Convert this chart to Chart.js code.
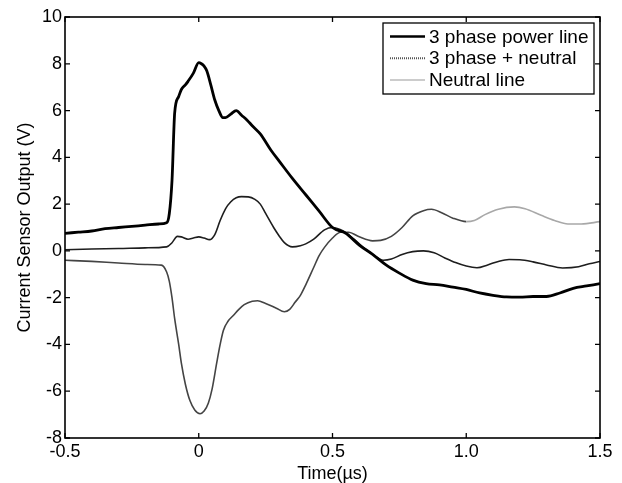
<!DOCTYPE html>
<html>
<head>
<meta charset="utf-8">
<script src="https://cdn.jsdelivr.net/npm/chart.js@4.4.0/dist/chart.umd.min.js"></script>
<style>
html,body{margin:0;padding:0;background:#fff;}
canvas{display:block;}
</style>
</head>
<body>
<canvas id="c" width="622" height="483"></canvas>
<script>
// ---- data ----
const seriesLabels = ["3 phase power line", "3 phase + neutral", "Neutral line"];

const tPower = [-0.5,-0.45,-0.4,-0.35,-0.3,-0.25,-0.2,-0.15,-0.12,-0.11,-0.1,-0.09,-0.075,-0.065,-0.05,-0.04,-0.02,0,0.01,0.02,0.03,0.045,0.06,0.075,0.09,0.1,0.12,0.14,0.16,0.18,0.2,0.23,0.27,0.3,0.35,0.4,0.45,0.5,0.55,0.6,0.65,0.7,0.75,0.8,0.85,0.9,0.95,1.0,1.05,1.1,1.15,1.2,1.25,1.3,1.35,1.4,1.45,1.5];
const vPower = [0.75,0.8,0.85,0.95,1.0,1.05,1.1,1.15,1.2,1.6,3.0,5.9,6.6,6.9,7.1,7.25,7.6,8.05,8.0,7.9,7.7,7.1,6.45,6.0,5.7,5.7,5.85,6.0,5.8,5.6,5.35,5.0,4.3,3.85,3.1,2.4,1.7,1.0,0.75,0.25,-0.15,-0.6,-0.95,-1.25,-1.4,-1.45,-1.55,-1.65,-1.8,-1.9,-1.97,-1.98,-1.95,-1.95,-1.8,-1.6,-1.5,-1.4];

const tSum = [-0.5,-0.4,-0.3,-0.2,-0.12,-0.1,-0.08,-0.065,-0.04,-0.02,0,0.02,0.04,0.06,0.08,0.1,0.12,0.14,0.16,0.185,0.21,0.23,0.25,0.28,0.3,0.32,0.35,0.38,0.4,0.43,0.47,0.5,0.54,0.58,0.62,0.65,0.69,0.72,0.76,0.8,0.84,0.88,0.92,0.96,1.0,1.04,1.08,1.12,1.16,1.2,1.25,1.3,1.36,1.42,1.46,1.5];
const vSum = [0.05,0.08,0.1,0.13,0.17,0.35,0.62,0.6,0.5,0.55,0.6,0.55,0.48,0.7,1.3,1.8,2.1,2.27,2.32,2.31,2.2,2.0,1.6,1.0,0.65,0.35,0.17,0.22,0.3,0.5,0.9,1.0,0.85,0.5,0.1,-0.15,-0.4,-0.35,-0.15,-0.03,0.0,-0.08,-0.3,-0.5,-0.65,-0.72,-0.6,-0.45,-0.37,-0.38,-0.47,-0.6,-0.73,-0.68,-0.55,-0.45];

const tNeutral = [-0.5,-0.4,-0.3,-0.2,-0.14,-0.12,-0.11,-0.1,-0.09,-0.075,-0.065,-0.05,-0.033,-0.015,0.005,0.02,0.036,0.05,0.067,0.08,0.092,0.11,0.13,0.15,0.17,0.2,0.22,0.25,0.29,0.32,0.34,0.36,0.38,0.4,0.43,0.45,0.47,0.5,0.53,0.56,0.6,0.65,0.68,0.72,0.76,0.8,0.84,0.87,0.91,0.95,1.0,1.03,1.07,1.12,1.18,1.22,1.28,1.33,1.38,1.43,1.5];
const vNeutral = [-0.4,-0.45,-0.52,-0.58,-0.61,-0.9,-1.3,-2.0,-2.9,-4.0,-4.8,-5.7,-6.4,-6.8,-6.96,-6.85,-6.5,-5.9,-4.8,-4.0,-3.4,-3.0,-2.75,-2.5,-2.3,-2.15,-2.13,-2.25,-2.45,-2.6,-2.5,-2.2,-1.9,-1.45,-0.7,-0.2,0.15,0.55,0.8,0.8,0.6,0.43,0.45,0.62,1.0,1.5,1.72,1.78,1.62,1.4,1.25,1.3,1.55,1.78,1.88,1.8,1.52,1.3,1.15,1.15,1.25];

const xTicks = [-0.5, 0, 0.5, 1, 1.5];
const yTicks = [-8, -6, -4, -2, 0, 2, 4, 6, 8, 10];
const xTitle = "Time(\u00b5s)";
const yTitle = "Current Sensor Output (V)";

const toXY = (ts, vs) => ts.map((t, i) => ({x: t, y: vs[i]}));

// ---- plugin: axes box, inward ticks, legend ----
const FONT = "'Liberation Sans', Arial, sans-serif";
const frame = {
  id: 'frame',
  afterDatasetsDraw(chart) {
    const {ctx, chartArea: a, scales} = chart;
    ctx.save();
    ctx.strokeStyle = '#000';
    ctx.lineWidth = 1.6;
    ctx.strokeRect(a.left, a.top, a.right - a.left, a.bottom - a.top);
    ctx.lineWidth = 1.3;
    const L = 5;
    xTicks.forEach(v => {
      const px = scales.x.getPixelForValue(v);
      ctx.beginPath();
      ctx.moveTo(px, a.bottom); ctx.lineTo(px, a.bottom - L);
      ctx.moveTo(px, a.top); ctx.lineTo(px, a.top + L);
      ctx.stroke();
    });
    yTicks.forEach(v => {
      const py = scales.y.getPixelForValue(v);
      ctx.beginPath();
      ctx.moveTo(a.left, py); ctx.lineTo(a.left + L, py);
      ctx.moveTo(a.right, py); ctx.lineTo(a.right - L, py);
      ctx.stroke();
    });
    // legend
    const bx = 383, by = 23, bw = 211, bh = 71;
    ctx.fillStyle = '#fff';
    ctx.fillRect(bx, by, bw, bh);
    ctx.lineWidth = 1.3;
    ctx.strokeStyle = '#000';
    ctx.strokeRect(bx, by, bw, bh);
    const rows = [
      {c: '#000', w: 2.6, dash: []},
      {c: '#555', w: 2, dash: [1, 1]},
      {c: '#bbb', w: 1.5, dash: []}
    ];
    ctx.font = "19px " + FONT;
    ctx.textBaseline = 'middle';
    ctx.textAlign = 'left';
    rows.forEach((r, i) => {
      const y = 36.5 + i * 21.7;
      ctx.beginPath();
      ctx.setLineDash(r.dash);
      ctx.strokeStyle = r.c;
      ctx.lineWidth = r.w;
      ctx.moveTo(390, y); ctx.lineTo(425, y);
      ctx.stroke();
      ctx.setLineDash([]);
      ctx.fillStyle = '#000';
      ctx.fillText(chart.data.datasets[i].label, 429, y + 1);
    });
    ctx.restore();
  }
};

new Chart(document.getElementById('c'), {
  type: 'line',
  data: {
    datasets: [
      {label: seriesLabels[0], data: toXY(tPower, vPower), borderColor: '#000', borderWidth: 2.8, pointRadius: 0, cubicInterpolationMode: 'monotone', order: 1},
      {label: seriesLabels[1], data: toXY(tSum, vSum), borderColor: '#1e1e1e', borderWidth: 1.6, pointRadius: 0, cubicInterpolationMode: 'monotone', order: 2},
      {label: seriesLabels[2], data: toXY(tNeutral, vNeutral), borderColor: '#444', borderWidth: 1.6, pointRadius: 0, cubicInterpolationMode: 'monotone', order: 3,
        segment: {borderColor: ctx => (ctx.p0.parsed.x >= 0.98 ? '#a8a8a8' : '#444')}}
    ]
  },
  options: {
    responsive: false,
    animation: false,
    devicePixelRatio: 1,
    layout: {padding: {left: 0, top: 17, right: 22, bottom: 0}},
    plugins: {legend: {display: false}, tooltip: {enabled: false}},
    scales: {
      x: {
        type: 'linear', min: -0.5, max: 1.5,
        afterBuildTicks: s => { s.ticks = xTicks.map(v => ({value: v})); },
        afterFit: s => { s.height = 45; },
        grid: {display: false, drawTicks: false}, border: {display: false},
        ticks: {color: '#000', padding: 3, maxRotation: 0, autoSkip: false, font: {family: FONT, size: 18}},
        title: {display: true, text: xTitle, color: '#000', padding: {top: 0, bottom: 0}, font: {family: FONT, size: 18, lineHeight: 1}}
      },
      y: {
        type: 'linear', min: -8, max: 10,
        afterBuildTicks: s => { s.ticks = yTicks.map(v => ({value: v})); },
        afterFit: s => { s.width = 65; },
        grid: {display: false, drawTicks: false}, border: {display: false},
        ticks: {color: '#000', padding: 3, autoSkip: false, font: {family: FONT, size: 18}},
        title: {display: true, text: yTitle, color: '#000', padding: {top: 16, bottom: 0}, font: {family: FONT, size: 18, lineHeight: 1}}
      }
    }
  },
  plugins: [frame]
});
</script>
</body>
</html>
